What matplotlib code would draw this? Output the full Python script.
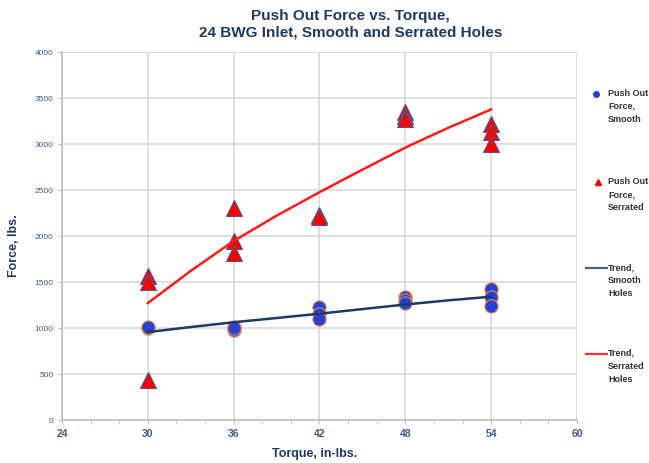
import numpy as np
import matplotlib.pyplot as plt
from matplotlib.lines import Line2D

# Measured push out force (lbs) at each torque setting (in-lbs)
smooth_torque = [30, 30, 36, 36, 36, 42, 42, 42, 48, 48, 48, 54, 54, 54]
smooth_force = [1000, 1010, 1010, 980, 1000, 1230, 1150, 1100, 1340, 1300, 1270, 1420, 1340, 1240]

serrated_torque = [30, 30, 30, 36, 36, 36, 42, 42, 48, 48, 48, 54, 54, 54]
serrated_force = [1560, 1500, 430, 2300, 1950, 1820, 2230, 2210, 3350, 3300, 3270, 3220, 3130, 3000]

# Trend lines as read at each torque setting
trend_torque = [30, 33, 36, 39, 42, 45, 48, 51, 54]
trend_smooth = [955, 1010, 1062, 1108, 1155, 1205, 1255, 1300, 1340]
trend_serrated = [1270, 1620, 1945, 2220, 2475, 2720, 2960, 3175, 3375]

x_ticks = [24, 30, 36, 42, 48, 54, 60]
y_ticks = [0, 500, 1000, 1500, 2000, 2500, 3000, 3500, 4000]

title_color = '#1f3864'
tick_color = '#3d5a8a'
grid_color = '#d9d9d9'

plt.rcParams['font.family'] = ['Liberation Sans', 'DejaVu Sans']

fig = plt.figure(figsize=(6.49, 4.64), dpi=100)
ax = fig.add_axes([0.0955, 0.0927, 0.7935, 0.7933])

ax.plot(smooth_torque, smooth_force, linestyle='none', marker='o', markersize=9.5,
        markerfacecolor='#2a3fd4', markeredgecolor='#e08a4a', markeredgewidth=0.8, zorder=3)
ax.plot(serrated_torque, serrated_force, linestyle='none', marker='^', markersize=11,
        markerfacecolor='#ff0000', markeredgecolor='#4a5a8c', markeredgewidth=0.8, zorder=3)
ax.plot(trend_torque, trend_smooth, color='#1f3864', linewidth=1.8, zorder=4)
ax.plot(trend_torque, trend_serrated, color='#ff1a1a', linewidth=1.8, zorder=4)

ax.set_xlim(24, 60)
ax.set_ylim(0, 4000)
ax.set_xticks(x_ticks)
ax.set_xticks(np.arange(24, 61, 2), minor=True)
ax.set_yticks(y_ticks)
ax.grid(True, color=grid_color, linewidth=1.2)
ax.set_axisbelow(True)

for side in ['top', 'right']:
    ax.spines[side].set_visible(False)
for side in ['left', 'bottom']:
    ax.spines[side].set_color('#bfbfbf')
    ax.spines[side].set_linewidth(1.2)

ax.tick_params(axis='x', which='major', length=3, color='#bfbfbf', labelsize=7.5,
               labelcolor=tick_color, pad=3)
ax.tick_params(axis='x', which='minor', length=3, color='#bfbfbf')
ax.tick_params(axis='y', length=3, color='#bfbfbf', labelsize=6, labelcolor=tick_color, pad=3)
for lbl in ax.get_xticklabels():
    lbl.set_fontweight('bold')

fig.text(0.485, 0.021, 'Torque, in-lbs.', ha='center', va='center', fontsize=9,
         fontweight='bold', color=title_color)
fig.text(0.022, 0.47, 'Force, lbs.', ha='center', va='center', rotation=90, fontsize=9,
         fontweight='bold', color=title_color)
fig.text(0.54, 0.948, 'Push Out Force vs. Torque,\n24 BWG Inlet, Smooth and Serrated Holes',
         ha='center', va='center', fontsize=11, fontweight='bold', color=title_color,
         linespacing=1.2)

# Legend drawn beside the plot, one entry per series
legend_items = [
    (Line2D([0.918], [0.795], marker='o', markersize=4, color='#2a3fd4', linestyle='none'),
     'Push Out\nForce,\nSmooth', 0.808),
    (Line2D([0.921], [0.605], marker='^', markersize=4.5, color='#ff0000', linestyle='none'),
     'Push Out\nForce,\nSerrated', 0.618),
    (Line2D([0.903, 0.936], [0.42, 0.42], color='#4a6290', linewidth=1.6),
     'Trend,\nSmooth\nHoles', 0.433),
    (Line2D([0.903, 0.936], [0.235, 0.235], color='#ff3333', linewidth=1.6),
     'Trend,\nSerrated\nHoles', 0.248),
]
for handle, label, ytop in legend_items:
    handle.set_transform(fig.transFigure)
    fig.add_artist(handle)
    fig.text(0.937, ytop, label, ha='left', va='top', fontsize=6.5, fontweight='bold',
             color='#333333', linespacing=1.55)

fig.savefig('out.png', dpi=100)
